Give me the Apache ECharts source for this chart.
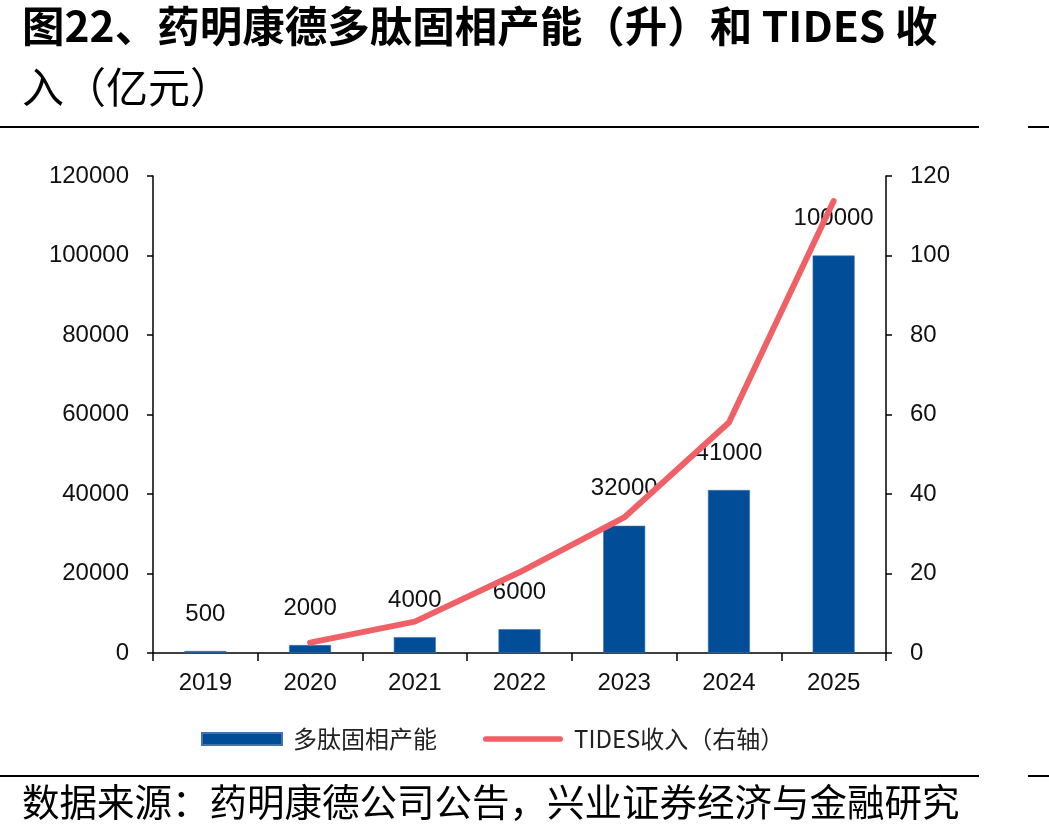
<!DOCTYPE html>
<html>
<head>
<meta charset="utf-8">
<script src="https://cdn.jsdelivr.net/npm/echarts@6/dist/echarts.min.js"></script>
<style>
html,body{margin:0;padding:0;background:#fff;}
#main{width:1049px;height:838px;}
</style>
</head>
<body>
<div id="main"></div>
<script>
var categories = ['2019','2020','2021','2022','2023','2024','2025'];
var capacity = [500, 2000, 4000, 6000, 32000, 41000, 100000];
var tidesRevenue = [null, 2.6, 7.9, 20.3, 34.1, 58.0, 113.7];
var leftTicks = {min: 0, max: 120000, interval: 20000};
var rightTicks = {min: 0, max: 120, interval: 20};
var seriesNames = ['多肽固相产能', 'TIDES收入（右轴）'];
var titleLine1 = '图22、药明康德多肽固相产能（升）和 TIDES 收';
var titleLine2 = '入（亿元）';
var sourceText = '数据来源：药明康德公司公告，兴业证券经济与金融研究';

var numFont = '"Liberation Sans", Arial, sans-serif';
var cjkFont = '"Noto Sans CJK SC", "Liberation Sans", sans-serif';
var barColor = '#014D97';
var lineColor = '#EF6166';
var textColor = '#111';

var chart = echarts.init(document.getElementById('main'), null, {renderer: 'canvas'});
var axisLine = {show: true, lineStyle: {color: '#000', width: 1.5}};
var plainNum = function (v) { return String(v); };
chart.setOption({
  backgroundColor: '#fff',
  animation: false,
  grid: {left: 153, right: 163, top: 176, bottom: 185, containLabel: false},
  legend: {
    left: 201, top: 727, padding: 0,
    itemWidth: 80, itemHeight: 12, itemGap: 46,
    textStyle: {fontSize: 24, color: '#222', fontFamily: cjkFont, padding: [0, 0, 0, 6]},
    data: [
      {name: seriesNames[0], icon: 'rect'},
      {name: seriesNames[1], icon: 'path://M0,0 L0,0 Z M85,12 L85,12 Z M3,3 L82,3 A3,3 0 0 1 82,9 L3,9 A3,3 0 0 1 3,3 Z'}
    ]
  },
  xAxis: {
    type: 'category', data: categories, boundaryGap: true,
    axisLine: axisLine,
    axisTick: {show: true, length: 8, lineStyle: {color: '#000', width: 1.5}},
    axisLabel: {fontSize: 24, color: textColor, fontFamily: numFont, margin: 18}
  },
  yAxis: [
    {type: 'value', min: leftTicks.min, max: leftTicks.max, interval: leftTicks.interval,
     axisLine: axisLine, splitLine: {show: false},
     axisTick: {show: true, length: 6, lineStyle: {color: '#000', width: 1.5}},
     axisLabel: {fontSize: 24, color: textColor, fontFamily: numFont, margin: 24, formatter: plainNum}},
    {type: 'value', min: rightTicks.min, max: rightTicks.max, interval: rightTicks.interval,
     position: 'right',
     axisLine: axisLine, splitLine: {show: false},
     axisTick: {show: true, length: 6, lineStyle: {color: '#000', width: 1.5}},
     axisLabel: {fontSize: 24, color: textColor, fontFamily: numFont, margin: 24, formatter: plainNum}}
  ],
  series: [
    {name: seriesNames[0], type: 'bar', data: capacity, barWidth: 42,
     itemStyle: {color: barColor, borderColor: '#3f74ad', borderWidth: 0.6},
     label: {show: true, position: 'top', distance: 25, fontSize: 24, color: textColor, fontFamily: numFont}},
    {name: seriesNames[1], type: 'line', yAxisIndex: 1, data: tidesRevenue,
     symbol: 'none', showSymbol: false,
     itemStyle: {color: lineColor},
     lineStyle: {color: lineColor, width: 6, cap: 'round', join: 'round'}, z: 5}
  ],
  graphic: [
    {type: 'text', left: 22, top: 5, style: {text: titleLine1, font: 'bold 42.5px ' + cjkFont, fill: '#000'}},
    {type: 'text', left: 22, top: 66, style: {text: titleLine2, font: '42px ' + cjkFont, fill: '#000'}},
    {type: 'rect', shape: {x: 0, y: 126, width: 979, height: 2}, style: {fill: '#000'}},
    {type: 'rect', shape: {x: 1028, y: 126, width: 21, height: 2}, style: {fill: '#000'}},
    {type: 'rect', shape: {x: 0, y: 775, width: 979, height: 2}, style: {fill: '#000'}},
    {type: 'rect', shape: {x: 1028, y: 775, width: 21, height: 2}, style: {fill: '#000'}},
    {type: 'text', left: 22, top: 783, style: {text: sourceText, font: '37.5px ' + cjkFont, fill: '#000'}}
  ]
});
</script>
</body>
</html>
